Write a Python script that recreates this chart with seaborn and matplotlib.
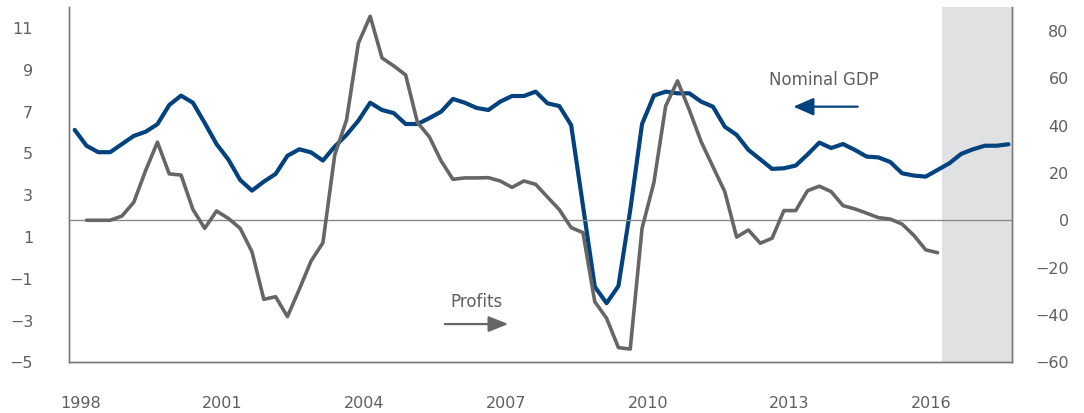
import numpy as np
import pandas as pd
import matplotlib
matplotlib.use("Agg")
import matplotlib.pyplot as plt
import seaborn as sns

# ---- data (quarterly, 1998Q1 .. 2017Q4) ----
gdp = [6.13, 5.37, 5.06, 5.06, 5.45, 5.84, 6.04, 6.40, 7.32, 7.77,
       7.43, 6.46, 5.45, 4.71, 3.73, 3.22, 3.65, 4.02, 4.89, 5.20,
       5.05, 4.66, 5.33, 5.89, 6.57, 7.43, 7.08, 6.93, 6.41, 6.41,
       6.69, 7.00, 7.61, 7.43, 7.18, 7.08, 7.48, 7.75, 7.75, 7.96,
       7.40, 7.27, 6.36, 2.50, -1.38, -2.17, -1.35, 2.29, 6.41, 7.77,
       7.96, 7.88, 7.88, 7.48, 7.24, 6.28, 5.89, 5.17, 4.72, 4.26,
       4.29, 4.42, 4.95, 5.52, 5.26, 5.45, 5.17, 4.85, 4.81, 4.59,
       4.05, 3.94, 3.89, 4.21, 4.53, 4.98, 5.20, 5.37, 5.37, 5.44]

# profits start one quarter later (1998Q2 .. 2016Q2)
profits = [0.0, 0.0, 0.0, 1.8, 7.6, 21.0, 33.0, 19.6, 19.1, 4.6,
           -3.4, 3.9, 0.8, -3.4, -13.3, -33.4, -32.3, -40.7, -29.2, -17.2,
           -9.5, 27.6, 42.4, 74.8, 86.2, 68.6, 65.2, 61.4, 41.3, 35.3,
           25.1, 17.3, 17.9, 17.9, 18.0, 16.6, 13.9, 16.6, 15.2, 9.8,
           4.5, -3.1, -5.2, -34.4, -41.4, -53.8, -54.4, -3.4, 15.9, 48.3,
           58.9, 46.6, 33.2, 22.6, 12.1, -7.1, -4.1, -9.7, -7.6, 4.1,
           4.1, 12.5, 14.4, 12.1, 6.2, 4.8, 3.0, 1.1, 0.5, -1.6,
           -6.4, -12.5, -13.7]

tick_years = [1998, 2001, 2004, 2007, 2010, 2013, 2016]
left_ticks = [11, 9, 7, 5, 3, 1, -1, -3, -5]
right_ticks = [80, 60, 40, 20, 0, -20, -40, -60]

t_gdp = 1998 + np.arange(len(gdp)) / 4
t_prof = 1998.25 + np.arange(len(profits)) / 4
df_gdp = pd.DataFrame({"t": t_gdp, "v": gdp})
df_prof = pd.DataFrame({"t": t_prof, "v": profits})

BLUE = "#02427f"
GREY = "#666666"
TXT = "#5f5f5f"
SPINE = "#7a7a7a"

sns.set_theme(style="white")
plt.rcParams["font.family"] = ["DejaVu Sans"]

fig = plt.figure(figsize=(10.84, 4.13), dpi=100)
ax = fig.add_axes([0.06393, 0.1228, 0.8701, 0.8596])
ax2 = ax.twinx()

ax.axvspan(2016.35, 2017.9, color="#e0e1e3", lw=0, zorder=0)

sns.lineplot(data=df_gdp, x="t", y="v", ax=ax, color=BLUE, lw=3.0, legend=False)
sns.lineplot(data=df_prof, x="t", y="v", ax=ax2, color=GREY, lw=2.6, legend=False)
ax2.axhline(0, color="#8a8a8a", lw=1.0, zorder=1)

ax.set_xlim(1997.886, 2017.835)
ax.set_ylim(-5, 12)
ax2.set_ylim(-60, 90)

ax.set_xticks([y + 0.12 for y in tick_years])
ax.set_xticklabels([str(y) for y in tick_years])
ax.set_yticks(left_ticks)
ax.set_yticklabels([str(v).replace("-", "\u2212") for v in left_ticks])
ax2.set_yticks(right_ticks)
ax2.set_yticklabels([str(v).replace("-", "\u2212") for v in right_ticks])
for lab in ax2.get_yticklabels():
    lab.set_horizontalalignment("right")

ax.tick_params(axis="x", length=0, pad=24, labelsize=11.5, labelcolor=TXT)
ax.tick_params(axis="y", length=0, pad=26, labelsize=11.5, labelcolor=TXT)
ax2.tick_params(axis="y", length=0, pad=40.5, labelsize=11.5, labelcolor=TXT)

for a in (ax, ax2):
    a.set_xlabel("")
    a.set_ylabel("")
    a.spines["top"].set_visible(False)
    for s in ("left", "bottom", "right"):
        a.spines[s].set_color(SPINE)
        a.spines[s].set_linewidth(1.0)
    a.grid(False)
ax2.patch.set_visible(False)

# annotations
ax.text(2013.855, 8.53, "Nominal GDP", ha="center", va="center",
        fontsize=12, color=TXT)
ax.annotate("", xy=(2013.20, 7.24), xytext=(2014.56, 7.24),
            arrowprops=dict(arrowstyle="-|>,head_length=0.62,head_width=0.27",
                            color=BLUE, lw=1.6, shrinkA=0, shrinkB=0,
                            mutation_scale=20))
ax.text(2006.49, -2.11, "Profits", ha="center", va="center",
        fontsize=12, color=TXT)
ax.annotate("", xy=(2007.17, -3.17), xytext=(2005.83, -3.17),
            arrowprops=dict(arrowstyle="-|>,head_length=0.6,head_width=0.24",
                            color=GREY, lw=1.6, shrinkA=0, shrinkB=0,
                            mutation_scale=20))

fig.savefig("out.png", dpi=100)
